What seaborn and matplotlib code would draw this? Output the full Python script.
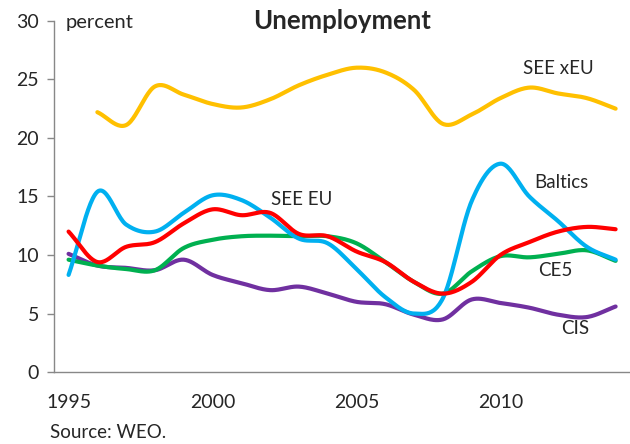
import numpy as np
import pandas as pd
import seaborn as sns
import matplotlib.pyplot as plt
from matplotlib.ticker import MultipleLocator

# Unemployment data, percent
years = list(range(1995, 2015))
see_xeu = [np.nan, 22.2, 21.1, 24.4, 23.7, 22.9, 22.6, 23.3, 24.5, 25.4,
           26.0, 25.6, 24.1, 21.2, 22.0, 23.4, 24.3, 23.8, 23.4, 22.5]
baltics = [8.3, 15.4, 12.6, 12.0, 13.6, 15.1, 14.7, 13.2, 11.4, 11.0,
           8.8, 6.4, 5.0, 6.3, 14.6, 17.8, 15.0, 12.9, 10.7, 9.6]
see_eu = [12.0, 9.4, 10.7, 11.1, 12.7, 13.9, 13.4, 13.6, 11.8, 11.6,
          10.3, 9.4, 7.7, 6.7, 7.7, 10.0, 11.1, 12.0, 12.4, 12.2]
ce5 = [9.6, 9.1, 8.8, 8.7, 10.6, 11.3, 11.6, 11.65, 11.6, 11.6,
       11.0, 9.4, 7.7, 6.7, 8.6, 9.9, 9.8, 10.1, 10.4, 9.5]
cis = [10.1, 9.1, 8.9, 8.7, 9.6, 8.3, 7.6, 7.0, 7.3, 6.7,
       6.0, 5.8, 4.9, 4.5, 6.2, 5.9, 5.5, 4.9, 4.7, 5.6]

series = {"SEE xEU": see_xeu, "CIS": cis, "CE5": ce5, "Baltics": baltics, "SEE EU": see_eu}
colors = {"SEE xEU": "#FFC000", "CIS": "#7030A0", "CE5": "#00B050",
          "Baltics": "#00B0F0", "SEE EU": "#FF0000"}


def smooth(x, y, n=25):
    # Catmull-Rom curve through the points, like Excel's smoothed line
    x = np.asarray(x, float)
    y = np.asarray(y, float)
    ok = ~np.isnan(y)
    x, y = x[ok], y[ok]
    px = np.concatenate([[2 * x[0] - x[1]], x, [2 * x[-1] - x[-2]]])
    py = np.concatenate([[2 * y[0] - y[1]], y, [2 * y[-1] - y[-2]]])
    t = np.linspace(0, 1, n, endpoint=False)
    xs, ys = [], []
    for i in range(1, len(px) - 2):
        for p, out in ((px, xs), (py, ys)):
            p0, p1, p2, p3 = p[i - 1], p[i], p[i + 1], p[i + 2]
            out.extend(0.5 * (2 * p1 + (-p0 + p2) * t
                              + (2 * p0 - 5 * p1 + 4 * p2 - p3) * t ** 2
                              + (-p0 + 3 * p1 - 3 * p2 + p3) * t ** 3))
    xs.append(x[-1])
    ys.append(y[-1])
    return np.array(xs), np.array(ys)


sns.set_style("white")
plt.rcParams["font.family"] = ["Lato", "DejaVu Sans"]

fig = plt.figure(figsize=(6.3, 4.44), dpi=100)
ax = fig.add_axes([0.086, 0.162, 0.914, 0.791])

for name, vals in series.items():
    sx, sy = smooth(years, vals)
    sns.lineplot(x=sx, y=sy, color=colors[name], linewidth=3.0, sort=False,
                 estimator=None, ax=ax)

ax.set_xlim(1994.5, 2014.5)
ax.set_ylim(0, 30)
ax.set_yticks(range(0, 31, 5))
ax.set_xticks([1995, 2000, 2005, 2010])
ax.xaxis.set_minor_locator(MultipleLocator(1, offset=0.5))
ax.tick_params(axis="x", which="major", length=0, pad=16, labelsize=14)
ax.tick_params(axis="x", which="minor", length=5, width=1, color="#888888",
               direction="out")
ax.tick_params(axis="y", length=5, width=1, color="#888888", direction="out",
               left=True, labelsize=14, pad=6)

for side in ("top", "right"):
    ax.spines[side].set_visible(False)
for side in ("left", "bottom"):
    ax.spines[side].set_color("#888888")
    ax.spines[side].set_linewidth(1)

ax.text(1994.9, 29.9, "percent", fontsize=14.5, va="center", ha="left")
fig.text(0.543, 0.953, "Unemployment", fontsize=18.5, fontweight="bold",
         ha="center", va="center")

labels = {"SEE xEU": (2012.0, 25.9), "Baltics": (2012.1, 16.2),
          "SEE EU": (2003.1, 14.7), "CE5": (2011.9, 8.7), "CIS": (2012.6, 3.7)}
for name, (lx, ly) in labels.items():
    ax.text(lx, ly, name, fontsize=13.5, ha="center", va="center")

fig.text(0.08, 0.025, "Source: WEO.", fontsize=13.5, ha="left", va="center")

fig.savefig("out.png", dpi=100)
